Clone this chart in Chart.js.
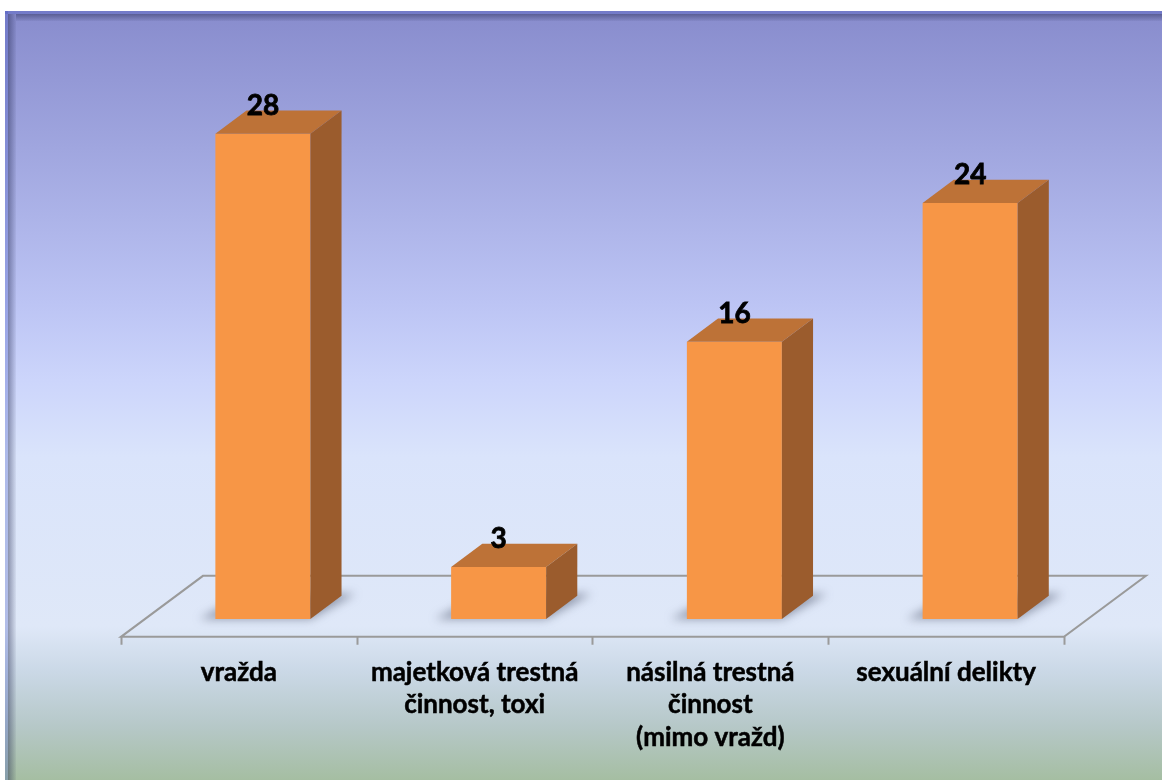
<!DOCTYPE html>
<html>
<head>
<meta charset="utf-8">
<script src="https://cdn.jsdelivr.net/npm/chart.js@4/dist/chart.umd.min.js"></script>
<style>
  html, body { margin: 0; padding: 0; background: #ffffff; overflow: hidden; }
  #wrap { width: 1162px; height: 780px; }
</style>
</head>
<body>
<div id="wrap"><canvas id="chart" width="1162" height="780"></canvas></div>
<script>
// Categories of offences (multi-line labels as arrays)
const categories = [
  'vražda',
  ['majetková trestná', 'činnost, toxi'],
  ['násilná trestná', 'činnost', '(mimo vražd)'],
  'sexuální delikty'
];
// Number of cases per category
const counts = [28, 3, 16, 24];
// Value axis range
const axisMin = 0;
const axisMax = 30;

// 3D geometry: full floor depth vector and the slice of it taken by the bars
const FLOOR_DX = 82, FLOOR_DY = -61;
const BAR_FRONT = 0.293;   // depth of bar front face
const BAR_DEPTH = 0.38;    // depth of the bar itself

const COLORS = {
  front: '#f79646',
  top: '#bd7237',
  side: '#9b5c2d',
  floor: '#9a9a9a'
};

const pseudo3d = {
  id: 'pseudo3d',
  beforeDraw(chart) {
    const { ctx, width, height } = chart;
    const x = chart.scales.x;
    ctx.save();
    // page background
    ctx.fillStyle = '#ffffff';
    ctx.fillRect(0, 0, width, height);
    // panel gradient
    const g = ctx.createLinearGradient(0, 11, 0, height);
    g.addColorStop(0.00, '#888ccd');
    g.addColorStop(0.18, '#a0a6df');
    g.addColorStop(0.38, '#bcc4f4');
    g.addColorStop(0.48, '#ccd5fb');
    g.addColorStop(0.58, '#dae4fb');
    g.addColorStop(0.80, '#dfe8f8');
    g.addColorStop(0.86, '#cad8e6');
    g.addColorStop(0.93, '#b6c8c8');
    g.addColorStop(1.00, '#a5bea2');
    ctx.fillStyle = g;
    ctx.fillRect(5, 11, width - 5, height - 11);
    // bevelled frame on the left and top edges
    ctx.fillStyle = 'rgba(60,80,190,0.28)';
    ctx.fillRect(5, 11, 3, height - 11);
    ctx.fillRect(5, 11, width - 5, 3);
    const gl = ctx.createLinearGradient(8, 0, 16, 0);
    gl.addColorStop(0, 'rgba(25,30,70,0.42)');
    gl.addColorStop(1, 'rgba(25,30,70,0.05)');
    ctx.fillStyle = gl;
    ctx.fillRect(8, 14, 8, height - 14);
    const gt = ctx.createLinearGradient(0, 14, 0, 21);
    gt.addColorStop(0, 'rgba(25,30,70,0.42)');
    gt.addColorStop(1, 'rgba(25,30,70,0.05)');
    ctx.fillStyle = gt;
    ctx.fillRect(16, 14, width - 16, 7);

    // floor parallelogram
    const base = chart.scales.y.getPixelForValue(axisMin);
    const fx = FLOOR_DX * BAR_FRONT, fy = FLOOR_DY * BAR_FRONT;
    const frontY = base - fy;
    const frontL = x.left - fx, frontR = x.right - fx;
    ctx.strokeStyle = COLORS.floor;
    ctx.lineWidth = 2;
    ctx.beginPath();
    ctx.moveTo(frontL, frontY);
    ctx.lineTo(frontR, frontY);
    ctx.lineTo(frontR + FLOOR_DX, frontY + FLOOR_DY);
    ctx.lineTo(frontL + FLOOR_DX, frontY + FLOOR_DY);
    ctx.closePath();
    ctx.stroke();
    // category tick marks on the front edge
    const step = (x.right - x.left) / categories.length;
    ctx.beginPath();
    for (let i = 0; i <= categories.length; i++) {
      const tx = Math.round(frontL + i * step) + 0.5;
      ctx.moveTo(tx, frontY);
      ctx.lineTo(tx, frontY + 8);
    }
    ctx.stroke();

    // soft shadows under the bars
    const meta = chart.getDatasetMeta(0);
    const bdx = FLOOR_DX * BAR_DEPTH, bdy = FLOOR_DY * BAR_DEPTH;
    ctx.filter = 'blur(5px)';
    ctx.fillStyle = 'rgba(80,88,110,0.55)';
    meta.data.forEach(bar => {
      const xl = bar.x - bar.width / 2, xr = bar.x + bar.width / 2, yb = bar.base;
      ctx.beginPath();
      ctx.moveTo(xl - 16, yb);
      ctx.lineTo(xr, yb);
      ctx.lineTo(xr + bdx + 14, yb + bdy - 2);
      ctx.lineTo(xl + bdx, yb + bdy - 2);
      ctx.closePath();
      ctx.fill();
    });
    ctx.filter = 'none';
    ctx.restore();
  },
  afterDatasetsDraw(chart) {
    const { ctx } = chart;
    const meta = chart.getDatasetMeta(0);
    const bdx = FLOOR_DX * BAR_DEPTH, bdy = FLOOR_DY * BAR_DEPTH;
    ctx.save();
    meta.data.forEach((bar, i) => {
      const xl = bar.x - bar.width / 2, xr = bar.x + bar.width / 2;
      const yt = bar.y, yb = bar.base;
      // top face
      ctx.fillStyle = COLORS.top;
      ctx.beginPath();
      ctx.moveTo(xl, yt);
      ctx.lineTo(xr, yt);
      ctx.lineTo(xr + bdx, yt + bdy);
      ctx.lineTo(xl + bdx, yt + bdy);
      ctx.closePath();
      ctx.fill();
      // side face
      ctx.fillStyle = COLORS.side;
      ctx.beginPath();
      ctx.moveTo(xr, yt);
      ctx.lineTo(xr + bdx, yt + bdy);
      ctx.lineTo(xr + bdx, yb + bdy);
      ctx.lineTo(xr, yb);
      ctx.closePath();
      ctx.fill();
      // value label
      ctx.fillStyle = '#000000';
      ctx.strokeStyle = '#000000';
      ctx.lineWidth = 0.8;
      ctx.font = 'bold 28px Lato, "Open Sans", sans-serif';
      ctx.textAlign = 'center';
      ctx.textBaseline = 'middle';
      ctx.fillText(String(counts[i]), bar.x, yt - 28);
      ctx.strokeText(String(counts[i]), bar.x, yt - 28);
    });
    ctx.restore();
  }
};

new Chart(document.getElementById('chart'), {
  type: 'bar',
  data: {
    labels: categories,
    datasets: [{
      data: counts,
      backgroundColor: COLORS.front,
      borderWidth: 0,
      categoryPercentage: 1,
      barPercentage: 0.403
    }]
  },
  options: {
    responsive: false,
    animation: false,
    devicePixelRatio: 1,
    layout: { padding: { left: 145, right: 74, top: 99, bottom: 0 } },
    plugins: { legend: { display: false }, tooltip: { enabled: false } },
    scales: {
      x: {
        grid: { display: false, drawTicks: false },
        border: { display: false },
        afterFit(scale) { scale.height = 161; },
        ticks: {
          autoSkip: false,
          maxRotation: 0,
          minRotation: 0,
          labelOffset: -24,
          padding: 37,
          color: '#000000',
          textStrokeColor: '#000000',
          textStrokeWidth: 0.5,
          font: { family: 'Lato, "Open Sans", sans-serif', size: 26, weight: 'bold', lineHeight: '32.5px' }
        }
      },
      y: {
        display: false,
        min: axisMin,
        max: axisMax
      }
    }
  },
  plugins: [pseudo3d]
});
</script>
</body>
</html>
